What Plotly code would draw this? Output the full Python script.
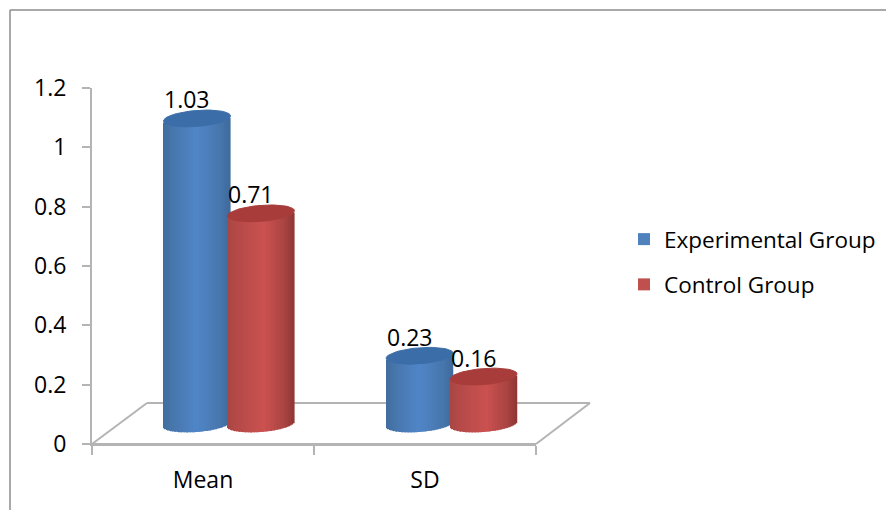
import numpy as np
import plotly.graph_objects as go

categories = ["Mean", "SD"]
experimental = [1.03, 0.23]
control = [0.71, 0.16]
series_names = ["Experimental Group", "Control Group"]
y_ticks = [0, 0.2, 0.4, 0.6, 0.8, 1, 1.2]
y_tick_labels = ["0", "0.2", "0.4", "0.6", "0.8", "1", "1.2"]

W, H = 894, 510
PAGE = 8                       # page margin of the browser window
L, R, T, B = 92, 536, 88, 444
FONT = "Open Sans"
FS = 23

def px(x):
    return (x - L) / (R - L)
def py(y):
    return (B - y) / (B - T)

unit_x = (R - L) / 2
unit_y = (B - T) / 1.2
base_offset = 20 / unit_y          # depth shift of the 3D floor
depth_shift = [0.117, 0.12]        # bars sit to the right of the category centre
half_w = 33.5 / unit_x
bar_gap = 64 / unit_x
rb = 8 / unit_y                    # ellipse half height
tilt = 2.5 / unit_y

palettes = [
    dict(side=[(0.0, "#416d9e"), (0.15, "#4877ad"), (0.5, "#5086c8"), (0.85, "#4877ad"), (1.0, "#3f6b9e")], cap="#3b6ea8", name=series_names[0], flat="#4f81bd"),
    dict(side=[(0.0, "#a84745"), (0.15, "#b54a48"), (0.55, "#cb5250"), (0.85, "#ab4543"), (1.0, "#8f3735")], cap="#a83c3a", name=series_names[1], flat="#c0504d"),
]

def hex2rgb(h):
    return np.array([int(h[i:i + 2], 16) for i in (1, 3, 5)], float)

def ramp(stops, t):
    for (a, ca), (b, cb) in zip(stops, stops[1:]):
        if t <= b:
            f = (t - a) / (b - a)
            c = hex2rgb(ca) * (1 - f) + hex2rgb(cb) * f
            return "rgb(%d,%d,%d)" % tuple(c)
    return stops[-1][1]

fig = go.Figure()
centers = [0.5 + depth_shift[0], 1.5 + depth_shift[1]]
caps = []
notes = []
N = 44
for s, (vals, pal) in enumerate(zip([experimental, control], palettes)):
    xc = [c + (s - 0.5) * bar_gap for c in centers]
    fig.add_trace(go.Bar(x=xc, y=vals, base=[base_offset] * 2, width=[2 * half_w * 0.96] * 2,
                         marker=dict(color=pal["flat"], line=dict(width=0)),
                         name=pal["name"], legendgroup=pal["name"], customdata=categories,
                         hovertemplate="%{customdata}: %{y}<extra>" + pal["name"] + "</extra>", cliponaxis=False))
    xs, ys, bs, cs = [], [], [], []
    sw = 2 * half_w / N
    for c, v in zip(xc, vals):
        for i in range(N):
            u = -1 + (i + 0.5) * 2 / N
            low = base_offset - rb * np.sqrt(1 - u * u) + tilt * u
            xs.append(c + u * half_w); ys.append(v); bs.append(low)
            cs.append(ramp(pal["side"], (u + 1) / 2))
    fig.add_trace(go.Bar(x=xs, y=ys, base=bs, width=[sw * 1.15] * len(xs),
                         marker=dict(color=cs, line=dict(width=0)), showlegend=False,
                         hoverinfo="skip", cliponaxis=False))
    for c, v in zip(xc, vals):
        th = np.linspace(0, 2 * np.pi, 60)
        u = np.cos(th)
        ex = c + half_w * u
        ey = base_offset + v + rb * np.sin(th) + tilt * u
        caps.append(go.Scatter(x=ex, y=ey, mode="lines", fill="toself", fillcolor=pal["cap"],
                               line=dict(color=pal["cap"], width=1), showlegend=False,
                               hoverinfo="skip", cliponaxis=False))
        notes.append(dict(x=c, y=base_offset + v, text=f"{v:g}", showarrow=False, xshift=-10, yshift=19,
                          font=dict(family=FONT, size=FS, color="#000")))
for c in caps:
    fig.add_trace(c)

line_col = "#b4b4b4"
floor = [(92, 444), (536, 444), (590, 403), (147, 403), (92, 444)]
shapes = []
for (x0, y0), (x1, y1) in zip(floor, floor[1:]):
    shapes.append(dict(type="line", xref="paper", yref="paper", x0=px(x0), y0=py(y0), x1=px(x1), y1=py(y1),
                       line=dict(color=line_col, width=2), layer="below"))
border = "#8c8c8c"
shapes.append(dict(type="line", xref="paper", yref="paper", x0=px(10), y0=py(10), x1=px(894), y1=py(10), line=dict(color=border, width=1.5)))
shapes.append(dict(type="line", xref="paper", yref="paper", x0=px(10), y0=py(10), x1=px(10), y1=py(510), line=dict(color=border, width=1.5)))

fig.update_layout(
    width=W - PAGE, height=H - PAGE,
    margin=dict(l=L - PAGE, r=W - R, t=T - PAGE, b=H - B, autoexpand=False),
    paper_bgcolor="white", plot_bgcolor="white", barmode="overlay", showlegend=True,
    shapes=shapes, annotations=notes, hovermode="closest",
    font=dict(family=FONT, size=FS, color="#000"),
    legend=dict(x=px(624), y=py(218), xanchor="left", yanchor="top", bgcolor="rgba(0,0,0,0)",
                font=dict(family=FONT, size=22.5), traceorder="grouped", tracegroupgap=13, itemclick=False, itemdoubleclick=False),
    xaxis=dict(range=[0, 2], tickmode="array", tickvals=[0.5, 1.5], ticktext=categories, ticks="", ticklen=0,
               showgrid=False, zeroline=False, showline=True, linecolor=line_col, linewidth=2,
               minor=dict(tickmode="array", tickvals=[0, 1, 2], ticks="outside", ticklen=9, tickcolor=line_col, tickwidth=2, showgrid=False),
               tickfont=dict(size=FS), ticklabelstandoff=14),
    yaxis=dict(range=[0, 1.2], tickmode="array", tickvals=y_ticks, ticktext=y_tick_labels, ticks="outside", ticklen=8,
               tickcolor=line_col, tickwidth=2, showgrid=False, zeroline=False, showline=True, linecolor=line_col, linewidth=2,
               tickfont=dict(size=FS), ticklabelstandoff=11),
)
fig.write_html("out.html")
